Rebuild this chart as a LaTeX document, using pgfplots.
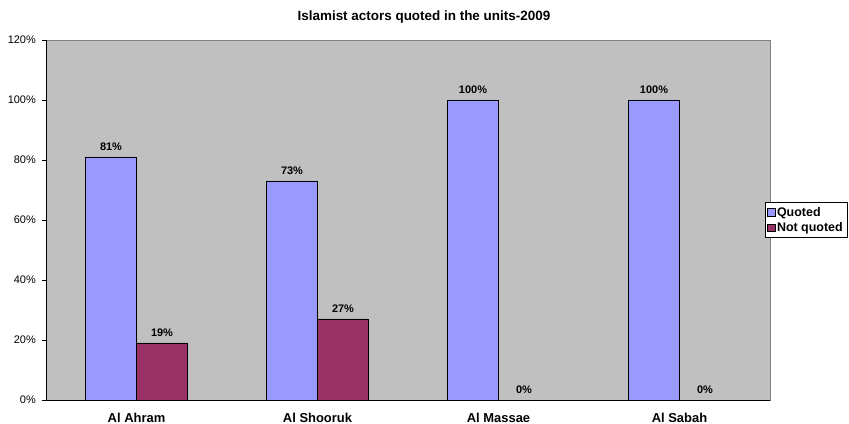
\documentclass[border=0pt]{standalone}
\usepackage{fontspec}
\setmainfont{Liberation Sans}
\usepackage{pgfplots}
\pgfplotsset{compat=1.18}
\definecolor{quoted}{HTML}{9999FF}
\definecolor{notq}{HTML}{993366}
\definecolor{plotbg}{HTML}{C0C0C0}
\begin{document}
\begin{tikzpicture}
\begin{axis}[
  at={(0,0)}, anchor=south west,
  scale only axis,
  width=724bp, height=360bp,
  ybar=0pt, bar width=51bp,
  xmin=-0.5, xmax=3.5,
  ymin=0, ymax=120,
  xtick={0,1,2,3},
  xticklabels={Al Ahram, Al Shooruk, Al Massae, Al Sabah},
  extra x ticks={-0.5,0.5,1.5,2.5,3.5},
  extra x tick labels={},
  extra x tick style={major tick length=4bp, tick style={black}},
  ytick={0,20,40,60,80,100,120},
  yticklabel={\pgfmathprintnumber{\tick}\%},
  /pgf/number format/assume math mode=true,
  axis x line*=bottom, axis y line*=left,
  axis line style={black},
  x tick style={draw=none},
  y tick style={black},
  tick align=outside,
  major tick length=4bp,
  axis background/.style={fill=plotbg, draw=gray},
  xticklabel style={font=\fontsize{13}{15}\selectfont\bfseries, anchor=base, yshift=-18.5bp, inner sep=0pt},
  yticklabel style={font=\fontsize{11}{13}\selectfont, anchor=east, inner sep=0pt, xshift=-6bp},
  title={Islamist actors quoted in the units-2009},
  title style={font=\fontsize{13.5}{15}\selectfont\bfseries, at={(0.522,1)}, anchor=center, yshift=17bp},
  nodes near coords={\pgfmathprintnumber{\pgfplotspointmeta}\%},
  nodes near coords style={font=\fontsize{11}{13}\selectfont\bfseries, anchor=south, inner sep=0pt, yshift=6.5bp, /pgf/number format/assume math mode=true},
  legend style={at={(0.993,0.5)}, anchor=west, draw=black, fill=white,
    font=\fontsize{12.5}{14}\selectfont\bfseries, inner xsep=2bp, inner ysep=2.5bp, row sep=1bp, cells={anchor=west}},
  legend image code/.code={\draw[#1,draw=black] (0bp,-3.5bp) rectangle (7.5bp,4bp);},
]
\addplot[fill=quoted, draw=black] coordinates {(0,81) (1,73) (2,100) (3,100)};
\addplot[fill=notq, draw=black] coordinates {(0,19) (1,27) (2,0) (3,0)};
\legend{Quoted, Not quoted}
\end{axis}
\pgfresetboundingbox
\path[use as bounding box] (-46bp,-24bp) rectangle (803bp,400bp);
\end{tikzpicture}
\end{document}
